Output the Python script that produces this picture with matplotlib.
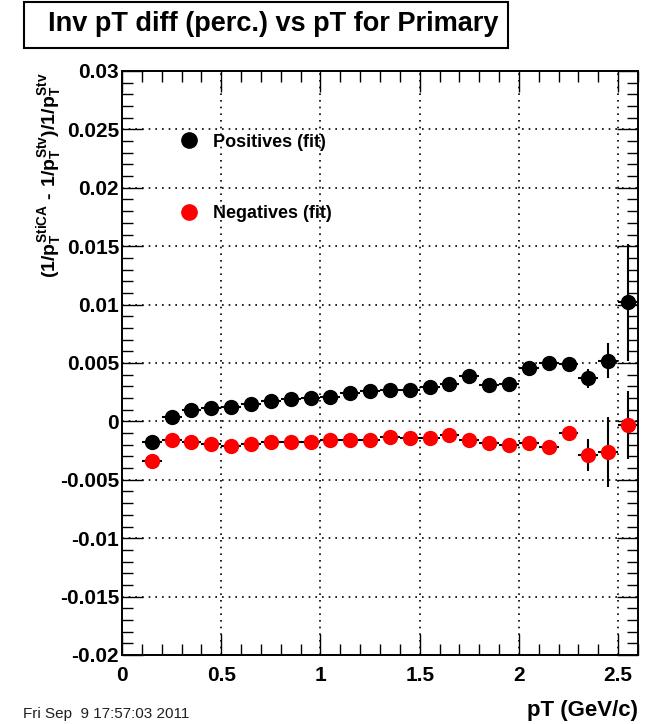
import matplotlib
matplotlib.use("Agg")
import matplotlib.pyplot as plt
from matplotlib.ticker import MultipleLocator
from matplotlib.lines import Line2D
from matplotlib.patches import Rectangle

plt.rcParams['font.family'] = ['Liberation Sans', 'DejaVu Sans']
plt.rcParams['font.weight'] = 'bold'
plt.rcParams['mathtext.fontset'] = 'custom'
plt.rcParams['mathtext.rm'] = 'Liberation Sans:bold'
plt.rcParams['mathtext.it'] = 'Liberation Sans:bold'
plt.rcParams['mathtext.bf'] = 'Liberation Sans:bold'

pt_centers = [0.15, 0.25, 0.35, 0.45, 0.55, 0.65, 0.75, 0.85, 0.95, 1.05, 1.15, 1.25,
              1.35, 1.45, 1.55, 1.65, 1.75, 1.85, 1.95, 2.05, 2.15, 2.25, 2.35, 2.45, 2.55]
bin_half_width = 0.05

pos_vals = [-0.00178, 0.00041, 0.00099, 0.00113, 0.00127, 0.00147, 0.00176, 0.0019, 0.00199,
            0.00213, 0.00242, 0.00261, 0.0027, 0.0027, 0.00298, 0.00319, 0.0039, 0.00313,
            0.00319, 0.00456, 0.00504, 0.0049, 0.0037, 0.00518, 0.0102]
pos_errs = [0.0002, 0.0002, 0.0002, 0.0002, 0.0002, 0.0002, 0.0002, 0.0002, 0.0002,
            0.0002, 0.0002, 0.0002, 0.0002, 0.0002, 0.0002, 0.0003, 0.0003, 0.0003,
            0.0003, 0.0003, 0.0003, 0.0003, 0.0008, 0.0015, 0.005]

neg_vals = [-0.00336, -0.00159, -0.00178, -0.00193, -0.0021, -0.00193, -0.00178, -0.00178,
            -0.00178, -0.00159, -0.00159, -0.00159, -0.0013, -0.00144, -0.00144, -0.00116,
            -0.00159, -0.00187, -0.00201, -0.00187, -0.00216, -0.00101, -0.00287, -0.00259,
            -0.0003]
neg_errs = [0.0002, 0.0002, 0.0002, 0.0002, 0.0002, 0.0002, 0.0002, 0.0002, 0.0002,
            0.0002, 0.0002, 0.0002, 0.0002, 0.0002, 0.0002, 0.0003, 0.0003, 0.0003,
            0.0003, 0.0003, 0.0003, 0.0004, 0.0014, 0.003, 0.0029]

title = "Inv pT diff (perc.) vs pT for Primary"
xlabel = "pT (GeV/c)"
ylabel = r"$(1/p_{T}^{StiCA}\ \text{-}\ 1/p_{T}^{Stv})/1/p_{T}^{Stv}$"
datestamp = "Fri Sep  9 17:57:03 2011"
legend_labels = ["Positives (fit)", "Negatives (fit)"]
xtick_vals = [0, 0.5, 1, 1.5, 2, 2.5]
xtick_labels = ['0', '0.5', '1', '1.5', '2', '2.5']
ytick_vals = [-0.02, -0.015, -0.01, -0.005, 0, 0.005, 0.01, 0.015, 0.02, 0.025, 0.03]
ytick_labels = ['-0.02', '-0.015', '-0.01', '-0.005', '0', '0.005', '0.01', '0.015',
                '0.02', '0.025', '0.03']

W, H = 654, 724
fig = plt.figure(figsize=(W / 100, H / 100), dpi=100)
ax = fig.add_axes([122 / W, 1 - 655 / H, (638 - 122) / W, (655 - 71) / H])

ax.errorbar(pt_centers, pos_vals, xerr=bin_half_width, yerr=pos_errs, fmt='o', color='black',
            ms=10, elinewidth=1.5, capsize=0, zorder=3)
ax.errorbar(pt_centers, neg_vals, xerr=bin_half_width, yerr=neg_errs, fmt='o', color='red',
            mec='red', ms=10, elinewidth=1.5, ecolor='black', capsize=0, zorder=3)

ax.set_xlim(0, 2.6)
ax.set_ylim(-0.02, 0.03)
ax.xaxis.set_minor_locator(MultipleLocator(0.1))
ax.yaxis.set_minor_locator(MultipleLocator(0.001))
ax.set_xticks(xtick_vals)
ax.set_xticklabels(xtick_labels, fontweight='bold')
ax.set_yticks(ytick_vals)
ax.set_yticklabels(ytick_labels, fontweight='bold')
ax.grid(True, which='major', linestyle=(0, (1, 3)), color='black', linewidth=1.2)
ax.tick_params(which='both', direction='in', top=True, right=True, width=1.0)
ax.tick_params(which='major', length=15, labelsize=15)
ax.tick_params(which='minor', length=8)
ax.tick_params(axis='y', pad=2)
ax.tick_params(axis='x', pad=8)
for s in ax.spines.values():
    s.set_linewidth(1.4)

handles = [Line2D([], [], marker='o', color='black', ls='none', ms=11),
           Line2D([], [], marker='o', color='red', ls='none', ms=11)]
ax.legend(handles, legend_labels, loc='upper left', bbox_to_anchor=(0.078, 0.908),
          frameon=False, labelspacing=3.0, handletextpad=0.3, borderpad=0,
          prop={'weight': 'bold', 'size': 13})

fig.text(50 / W, 1 - 72 / H, ylabel, rotation=90, va='top', ha='center', fontsize=14)
fig.text(638 / W, 0.004, xlabel, ha='right', va='bottom', fontsize=16, fontweight='bold')
fig.text(23 / W, 1 - 714 / H, datestamp, ha='left', va='center', fontsize=11,
         fontweight='normal', color='#202020')

fig.add_artist(Rectangle((24 / W, 1 - 48 / H), (508 - 24) / W, 46 / H,
                         transform=fig.transFigure, fc='white', ec='black', lw=1.5))
fig.text(273 / W, 1 - 24 / H, title, ha='center', va='center', fontsize=19.5, fontweight='bold')

fig.savefig('out.png', dpi=100)
